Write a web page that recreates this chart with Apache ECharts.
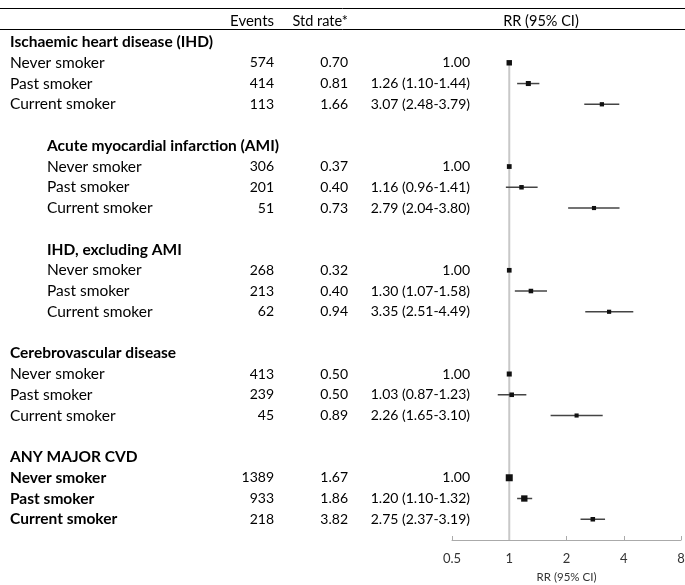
<!DOCTYPE html>
<html>
<head>
<meta charset="utf-8">
<script src="https://cdn.jsdelivr.net/npm/echarts@6/dist/echarts.min.js"></script>
<style>
  html, body { margin: 0; padding: 0; background: #fff; }
  #chart { width: 685px; height: 585px; }
</style>
</head>
<body>
<div id="chart"></div>
<script>
  // 表格数据
  const groups = ['Ischaemic heart disease (IHD)', 'Acute myocardial infarction (AMI)', 'IHD, excluding AMI', 'Cerebrovascular disease', 'ANY MAJOR CVD']
  const groupIndent = [false, true, true, false, false]
  const groupBold = [false, false, false, false, true]  // 行标签是否加粗
  const statuses = ['Never smoker', 'Past smoker', 'Current smoker']
  const events = [[574, 414, 113], [306, 201, 51], [268, 213, 62], [413, 239, 45], [1389, 933, 218]]
  const stdRate = [[0.70, 0.81, 1.66], [0.37, 0.40, 0.73], [0.32, 0.40, 0.94], [0.50, 0.50, 0.89], [1.67, 1.86, 3.82]]
  const rr = [[1.00, 1.26, 3.07], [1.00, 1.16, 2.79], [1.00, 1.30, 3.35], [1.00, 1.03, 2.26], [1.00, 1.20, 2.75]]
  const ciLow = [[null, 1.10, 2.48], [null, 0.96, 2.04], [null, 1.07, 2.51], [null, 0.87, 1.65], [null, 1.10, 2.37]]
  const ciHigh = [[null, 1.44, 3.79], [null, 1.41, 3.80], [null, 1.58, 4.49], [null, 1.23, 3.10], [null, 1.32, 3.19]]
  const xTicks = [0.5, 1, 2, 4, 8]

  const FONT = 'Lato'
  const colX = { label: 10, indent: 47, events: 274, rate: 348, rr: 470 }

  // 每组占 5 行：标题 + 3 行 + 空行
  const tableRows = []
  const forestRows = []
  groups.forEach((g, gi) => {
    const base = 1 + gi * 5
    tableRows.push({ value: [1, base], kind: 'title', text: g, gi: gi })
    statuses.forEach((s, si) => {
      const row = base + 1 + si
      const r = rr[gi][si]
      const lo = ciLow[gi][si]
      const hi = ciHigh[gi][si]
      const rrText = lo == null ? r.toFixed(2) : r.toFixed(2) + ' (' + lo.toFixed(2) + '-' + hi.toFixed(2) + ')'
      tableRows.push({ value: [1, row], kind: 'row', text: s, gi: gi,
        ev: String(events[gi][si]), rate: stdRate[gi][si].toFixed(2), rrText: rrText })
      forestRows.push([row, r, lo == null ? r : lo, hi == null ? r : hi, events[gi][si]])
    })
  })
  tableRows.push({ value: [1, 0], kind: 'header' })

  // 文字：标签用大一点的字号，数字保持 14px
  function txt(x, y, s, align, bold, size) {
    return {
      type: 'text', x: x, y: y,
      style: { text: s, align: align, verticalAlign: 'middle', fill: '#000',
        font: (bold ? 'bold ' : '') + (size || 14) + 'px ' + FONT }
    }
  }

  function renderTable(params, api) {
    const d = tableRows[params.dataIndex]
    const y = api.coord([1, api.value(1)])[1]
    const x0 = groupIndent[d.gi] ? colX.indent : colX.label
    if (d.kind === 'header') {
      return { type: 'group', children: [
        txt(colX.events, y, 'Events', 'right', false, 15),
        txt(colX.rate, y, 'Std rate*', 'right', false, 14.5),
        txt(541, y, 'RR (95% CI)', 'center', false, 14.5)
      ] }
    }
    if (d.kind === 'title') {
      return txt(x0, y, d.text, 'left', true, 15.5)
    }
    return { type: 'group', children: [
      txt(x0, y, d.text, 'left', groupBold[d.gi], 15.5),
      txt(colX.events, y, d.ev, 'right', false),
      txt(colX.rate, y, d.rate, 'right', false),
      txt(colX.rr, y, d.rrText, 'right', false)
    ] }
  }

  function renderForest(params, api) {
    const row = api.value(0)
    const p = api.coord([api.value(1), row])
    const a = api.coord([api.value(2), row])
    const b = api.coord([api.value(3), row])
    const size = 4 + Math.min(3, api.value(4) / 400)
    const children = []
    if (b[0] - a[0] > 0.5) {
      children.push({ type: 'line', shape: { x1: a[0], y1: a[1], x2: b[0], y2: b[1] },
        style: { stroke: '#444', lineWidth: 1.5 } })
    }
    children.push({ type: 'rect', shape: { x: p[0] - size / 2, y: p[1] - size / 2, width: size, height: size },
      style: { fill: '#111' } })
    return { type: 'group', children: children }
  }

  const chart = echarts.init(document.getElementById('chart'), null, { renderer: 'canvas' })
  chart.setOption({
    animation: false,
    grid: { left: 452, right: 4, top: 21.3, bottom: 45, containLabel: false, outerBoundsMode: 'none' },
    xAxis: {
      type: 'log', logBase: 2, min: 0.5, max: 8, position: 'bottom',
      name: 'RR (95% CI)', nameLocation: 'middle', nameGap: 31,
      nameTextStyle: { fontFamily: FONT, fontSize: 11.5, color: '#333' },
      axisLine: { onZero: false, lineStyle: { color: '#aaa', width: 1 } },
      axisTick: { inside: true, length: 4, lineStyle: { color: '#aaa' } },
      axisLabel: { fontFamily: FONT, fontSize: 13, color: '#333', margin: 12,
        formatter: v => xTicks.includes(+v.toFixed(2)) ? String(+v.toFixed(2)) : '' },
      splitLine: { show: false }
    },
    yAxis: { type: 'value', inverse: true, min: 0, max: 25, show: false },
    graphic: [
      { type: 'line', shape: { x1: 0, y1: 8.5, x2: 685, y2: 8.5 }, style: { stroke: '#000', lineWidth: 1 } },
      { type: 'line', shape: { x1: 0, y1: 29.5, x2: 685, y2: 29.5 }, style: { stroke: '#000', lineWidth: 1 } }
    ],
    series: [
      {
        type: 'line', data: [[1, 1.95], [1, 25]], symbol: 'none', silent: true, z: 1,
        lineStyle: { color: '#c8c8c8', width: 2 }
      },
      { type: 'custom', renderItem: renderForest, data: forestRows, z: 3, clip: false },
      { type: 'custom', renderItem: renderTable, data: tableRows.map(r => r.value), z: 4, clip: false }
    ]
  })
</script>
</body>
</html>
